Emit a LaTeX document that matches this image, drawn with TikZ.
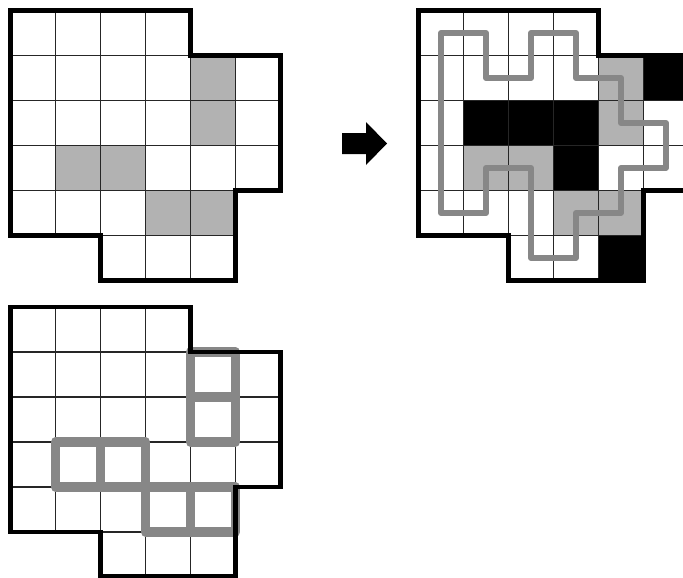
\documentclass[tikz,border=0pt]{standalone}
\usepackage{tikz}

% Contorno de la figura (en unidades de celda)
\newcommand{\contorno}{(0,0) -- (4,0) -- (4,1) -- (6,1) -- (6,4) -- (5,4) -- (5,6) -- (2,6) -- (2,5) -- (0,5) -- cycle}
% Lineas interiores de la cuadricula
\newcommand{\lineas}{%
  \begin{scope}
    \clip \contorno;
    \foreach \i in {1,...,5} {
      \draw[rejilla] (\i,0) -- (\i,6);
      \draw[rejilla] (0,\i) -- (6,\i);
    }
  \end{scope}}

\begin{document}
\begin{tikzpicture}[x=0.02cm, y=-0.02cm,
    rejilla/.style={black!85, line width=0.7pt},
    borde/.style={black, line width=2.8pt},
    gris/.style={fill=black!30},
    negro/.style={fill=black},
    camino/.style={black!47, line width=3.4pt, line join=round},
    domino/.style={black!47, line width=5.2pt, line join=round}]
    % Limites del dibujo
    \clip (0,0) rectangle (683,578);
    \fill[white] (0,0) rectangle (683,578);

    % Cuadricula de arriba a la izquierda con celdas grises
    \begin{scope}[shift={(10.5,10.5)}, x=0.9cm, y=-0.9cm]
        \fill[gris] (4,1) rectangle (5,3);
        \fill[gris] (1,3) rectangle (3,4);
        \fill[gris] (3,4) rectangle (5,5);
        \lineas
        \draw[borde] \contorno;
    \end{scope}

    % Flecha entre las dos figuras
    \fill[black] (342,133) -- (366,133) -- (366,122) -- (387,143.5) -- (366,165) -- (366,154) -- (342,154) -- cycle;

    % Cuadricula de arriba a la derecha con el recorrido
    \begin{scope}[shift={(418.5,10.5)}, x=0.9cm, y=-0.9cm]
        \fill[gris] (4,1) rectangle (5,3);
        \fill[gris] (1,3) rectangle (3,4);
        \fill[gris] (3,4) rectangle (5,5);
        \fill[negro] (5,1) rectangle (6,2);
        \fill[negro] (1,2) rectangle (4,3);
        \fill[negro] (3,3) rectangle (4,4);
        \fill[negro] (4,5) rectangle (5,6);
        \lineas
        \draw[borde] \contorno;
        % Recorrido por los centros de las celdas
        \draw[camino] (0.5,0.5) -- (1.5,0.5) -- (1.5,1.5) -- (2.5,1.5) -- (2.5,0.5) -- (3.5,0.5)
            -- (3.5,1.5) -- (4.5,1.5) -- (4.5,2.5) -- (5.5,2.5) -- (5.5,3.5) -- (4.5,3.5)
            -- (4.5,4.5) -- (3.5,4.5) -- (3.5,5.5) -- (2.5,5.5) -- (2.5,3.5) -- (1.5,3.5)
            -- (1.5,4.5) -- (0.5,4.5) -- cycle;
    \end{scope}

    % Cuadricula de abajo con los dominos marcados
    \begin{scope}[shift={(10.5,307)}, x=0.9cm, y=-0.9cm]
        \lineas
        \draw[domino] (4,1) rectangle (5,2) (4,2) rectangle (5,3);
        \draw[domino] (1,3) rectangle (2,4) (2,3) rectangle (3,4);
        \draw[domino] (3,4) rectangle (4,5) (4,4) rectangle (5,5);
        \draw[borde] \contorno;
    \end{scope}
\end{tikzpicture}
\end{document}
